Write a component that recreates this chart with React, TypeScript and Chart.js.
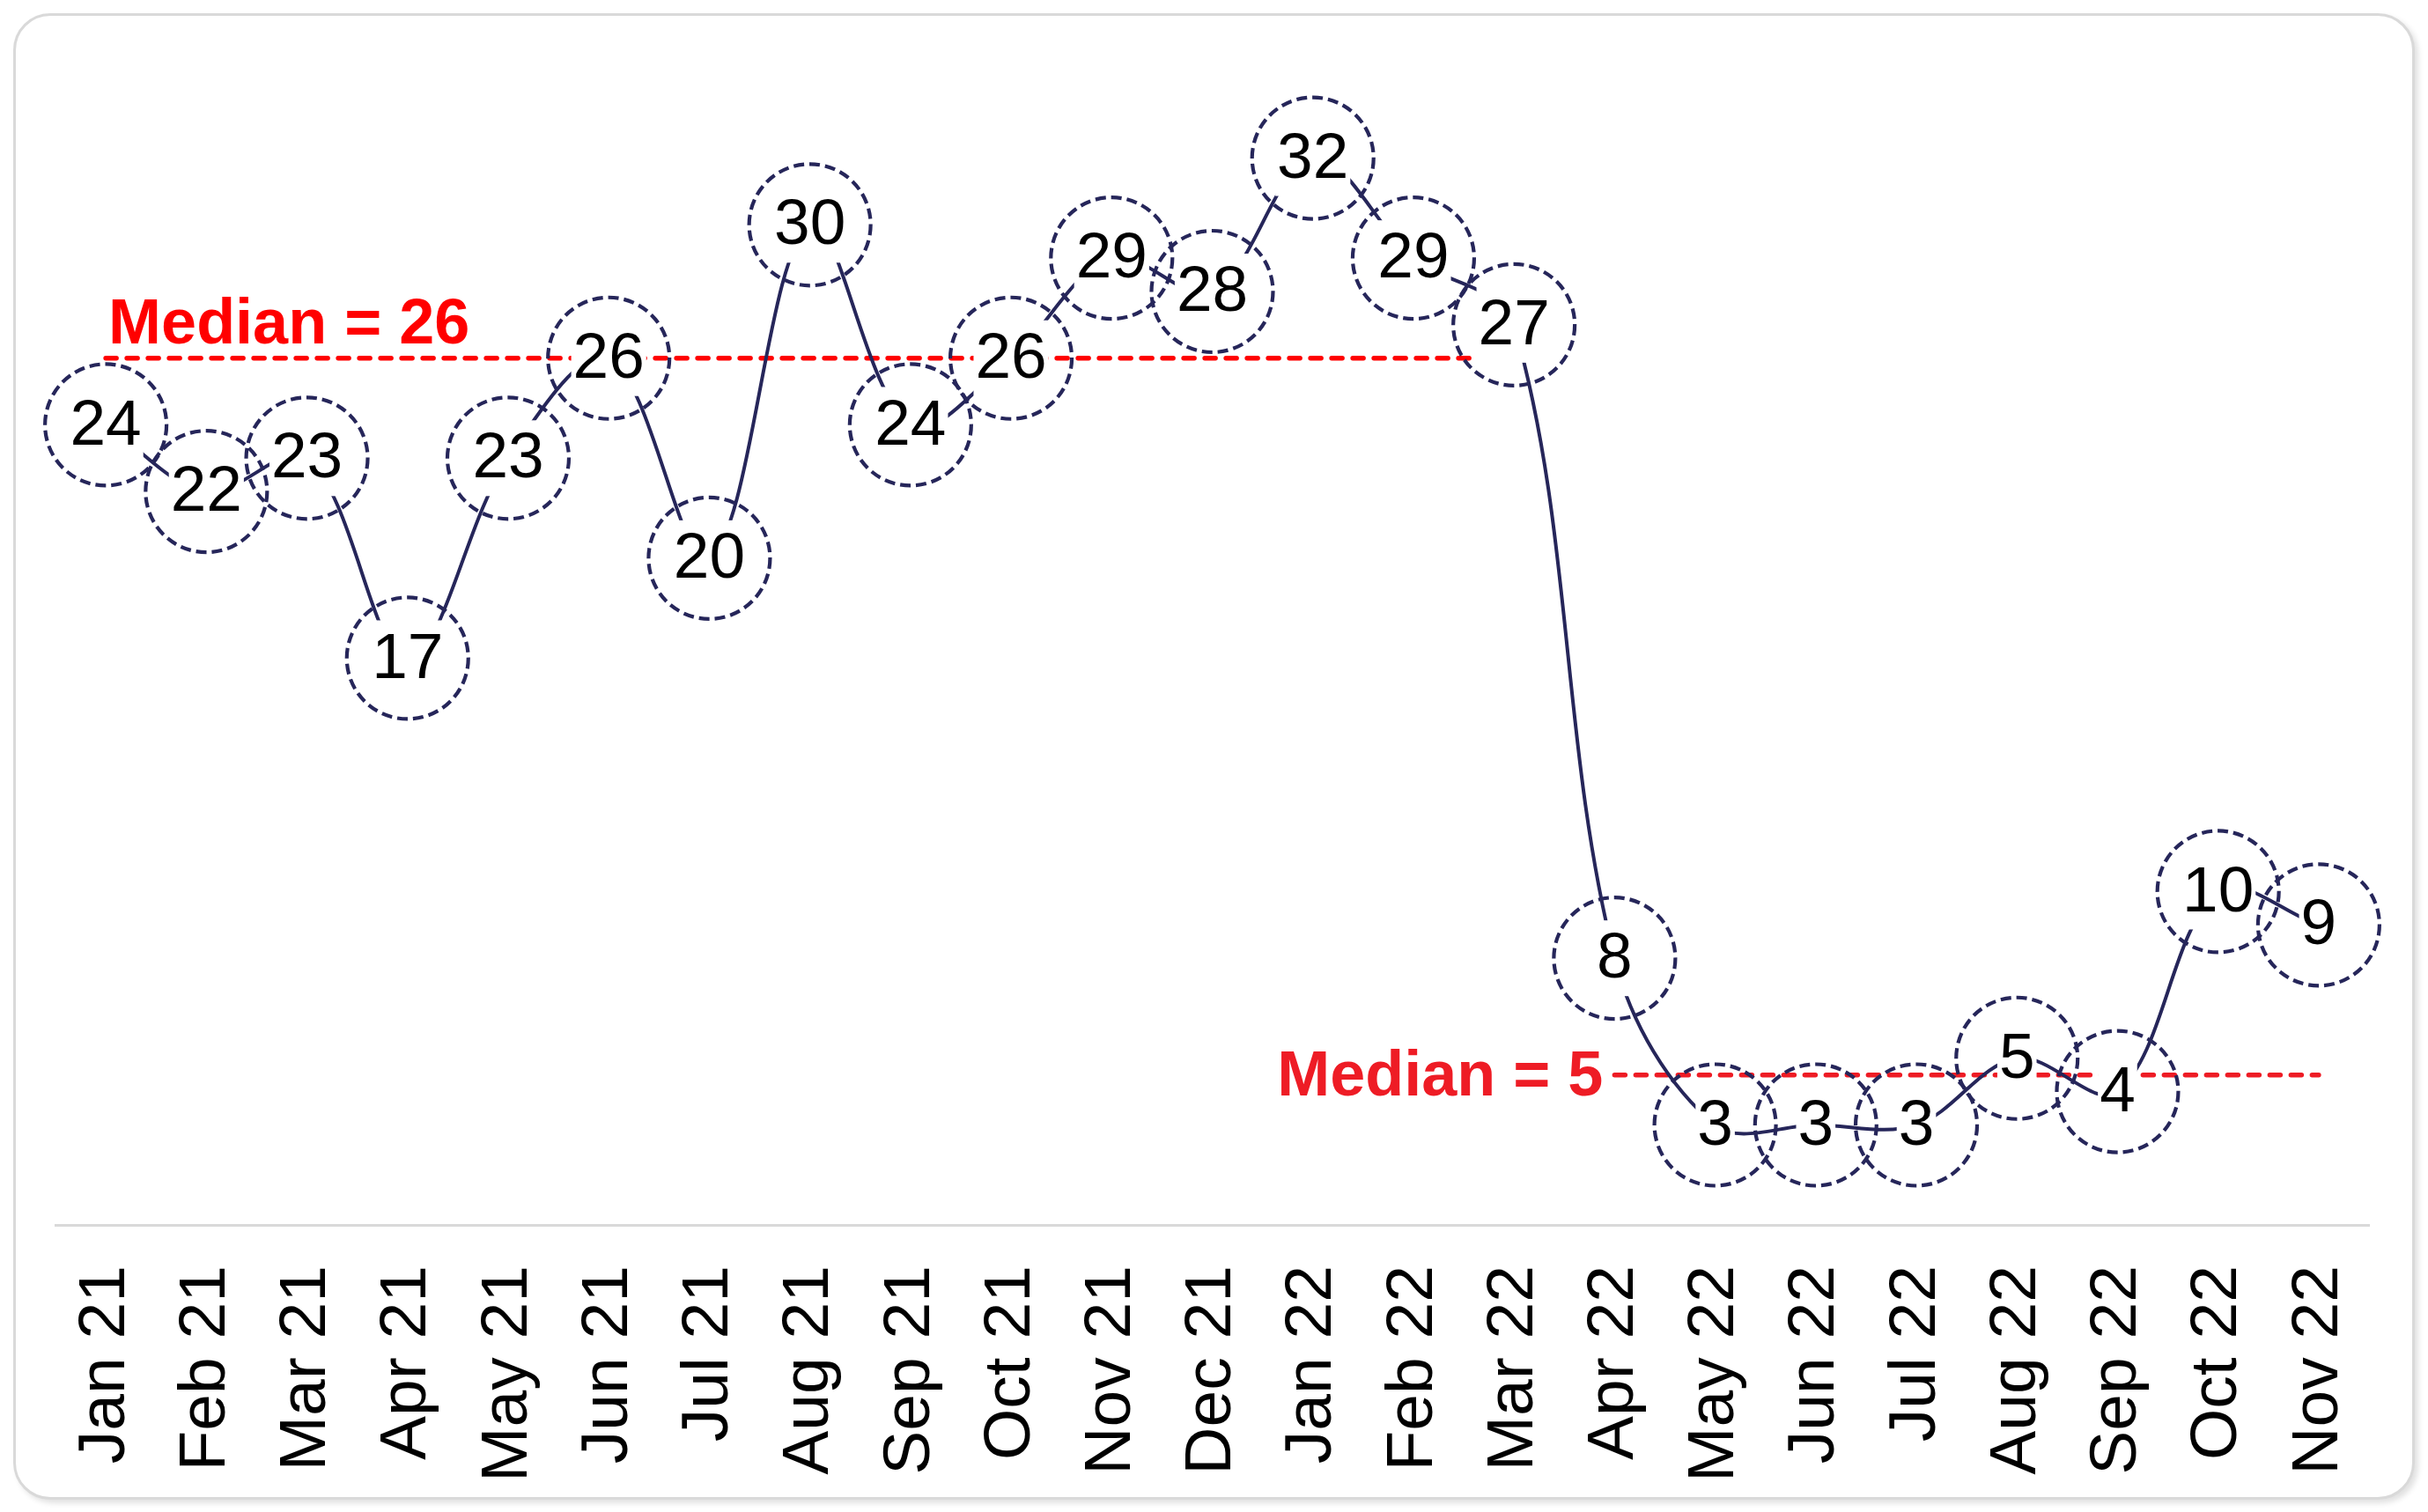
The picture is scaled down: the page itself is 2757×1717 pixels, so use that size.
import React, { useEffect, useRef } from 'react';
import { Chart, registerables } from 'chart.js';

Chart.register(...registerables);

const months = [
  'Jan 21', 'Feb 21', 'Mar 21', 'Apr 21', 'May 21', 'Jun 21', 'Jul 21', 'Aug 21',
  'Sep 21', 'Oct 21', 'Nov 21', 'Dec 21', 'Jan 22', 'Feb 22', 'Mar 22', 'Apr 22',
  'May 22', 'Jun 22', 'Jul 22', 'Aug 22', 'Sep 22', 'Oct 22', 'Nov 22',
];
const values = [24, 22, 23, 17, 23, 26, 20, 30, 24, 26, 29, 28, 32, 29, 27, 8, 3, 3, 3, 5, 4, 10, 9];

const median1Label = 'Median = 26';
const median1Level = 26;
const median1Start = 0;
const median1End = 14;

const median2Label = 'Median = 5';
const median2Level = 4.5;
const median2Start = 15;
const median2End = 22;

const yMin = 0;
const yMax = 35;

const NAVY = '#26265a';
const FONT = '"Liberation Sans", Arial, sans-serif';

const overlayPlugin = {
  id: 'overlay',
  afterDatasetsDraw(chart: any) {
    const ctx = chart.ctx as CanvasRenderingContext2D;
    const meta = chart.getDatasetMeta(0);
    const xs = chart.scales.x;
    const ys = chart.scales.y;
    ctx.save();
    ctx.font = `73px ${FONT}`;
    // white label boxes
    meta.data.forEach((pt: any, i: number) => {
      const { x, y } = pt.getProps(['x', 'y'], true);
      const w = ctx.measureText(String(values[i])).width;
      ctx.fillStyle = '#ffffff';
      ctx.fillRect(x - w / 2 - 2, y - 43, w + 4, 86);
    });
    // label text
    ctx.textAlign = 'center';
    ctx.textBaseline = 'middle';
    ctx.fillStyle = '#000000';
    meta.data.forEach((pt: any, i: number) => {
      const { x, y } = pt.getProps(['x', 'y'], true);
      ctx.fillText(String(values[i]), x, y + 2);
    });
    // dashed circles
    ctx.setLineDash([12, 6]);
    ctx.lineWidth = 4.2;
    ctx.strokeStyle = NAVY;
    meta.data.forEach((pt: any) => {
      const { x, y } = pt.getProps(['x', 'y'], true);
      ctx.beginPath();
      ctx.arc(x, y, 69, 0, Math.PI * 2);
      ctx.stroke();
    });
    ctx.setLineDash([]);
    // median labels
    ctx.font = `bold 72px ${FONT}`;
    ctx.fillStyle = '#ff0000';
    ctx.textAlign = 'left';
    ctx.textBaseline = 'alphabetic';
    ctx.fillText(median1Label, xs.getPixelForValue(median1Start) + 3, ys.getPixelForValue(median1Level) - 17);
    ctx.fillStyle = '#ee1c25';
    ctx.textAlign = 'right';
    ctx.textBaseline = 'middle';
    ctx.fillText(median2Label, xs.getPixelForValue(median2Start) - 13, ys.getPixelForValue(median2Level) + 3);
    ctx.restore();
  },
};

export default function App() {
  const ref = useRef<HTMLCanvasElement | null>(null);

  useEffect(() => {
    if (!ref.current) return;
    const med1 = months.map((_, i) => (i >= median1Start && i <= median1End ? median1Level : null));
    const med2 = months.map((_, i) => (i >= median2Start && i <= median2End ? median2Level : null));
    const chart = new Chart(ref.current, {
      type: 'line',
      data: {
        labels: months,
        datasets: [
          {
            data: values,
            borderColor: NAVY,
            borderWidth: 4,
            tension: 0.35,
            pointRadius: 0,
            fill: false,
          },
          {
            data: med1,
            borderColor: '#ff0000',
            borderWidth: 5.5,
            borderDash: [12, 12],
            borderCapStyle: 'round',
            pointRadius: 0,
            tension: 0,
            spanGaps: false,
          },
          {
            data: med2,
            borderColor: '#ee1c25',
            borderWidth: 5.5,
            borderDash: [12, 12],
            borderCapStyle: 'round',
            pointRadius: 0,
            tension: 0,
            spanGaps: false,
          },
        ],
      },
      options: {
        responsive: false,
        animation: false,
        devicePixelRatio: 1,
        layout: { padding: { left: 63, right: 67, top: 66, bottom: -12 } },
        plugins: { legend: { display: false }, tooltip: { enabled: false } },
        scales: {
          x: {
            offset: true,
            grid: { display: false, drawTicks: false },
            border: { display: true, color: '#d9d9d9', width: 3 },
            ticks: {
              color: '#000000',
              font: { family: FONT, size: 75 },
              minRotation: 90,
              maxRotation: 90,
              padding: 46,
              autoSkip: false,
            },
            afterFit: (scale: any) => {
              scale.paddingLeft = 0;
              scale.paddingRight = 0;
            },
          },
          y: {
            display: false,
            min: yMin,
            max: yMax,
          },
        },
      },
      plugins: [overlayPlugin],
    });
    return () => chart.destroy();
  }, []);

  return (
    <div style={{ position: 'fixed', left: 0, top: 0, width: 2757, height: 1717, background: '#ffffff', overflow: 'hidden' }}>
      <div
        style={{
          position: 'absolute',
          left: 15,
          top: 15,
          width: 2727,
          height: 1688,
          boxSizing: 'border-box',
          border: '3px solid #d9d9d9',
          borderRadius: 42,
          boxShadow: '4px 4px 6px rgba(0,0,0,0.12)',
          background: '#ffffff',
        }}
      />
      <canvas ref={ref} width={2757} height={1717} style={{ position: 'absolute', left: 0, top: 0, width: 2757, height: 1717 }} />
    </div>
  );
}
